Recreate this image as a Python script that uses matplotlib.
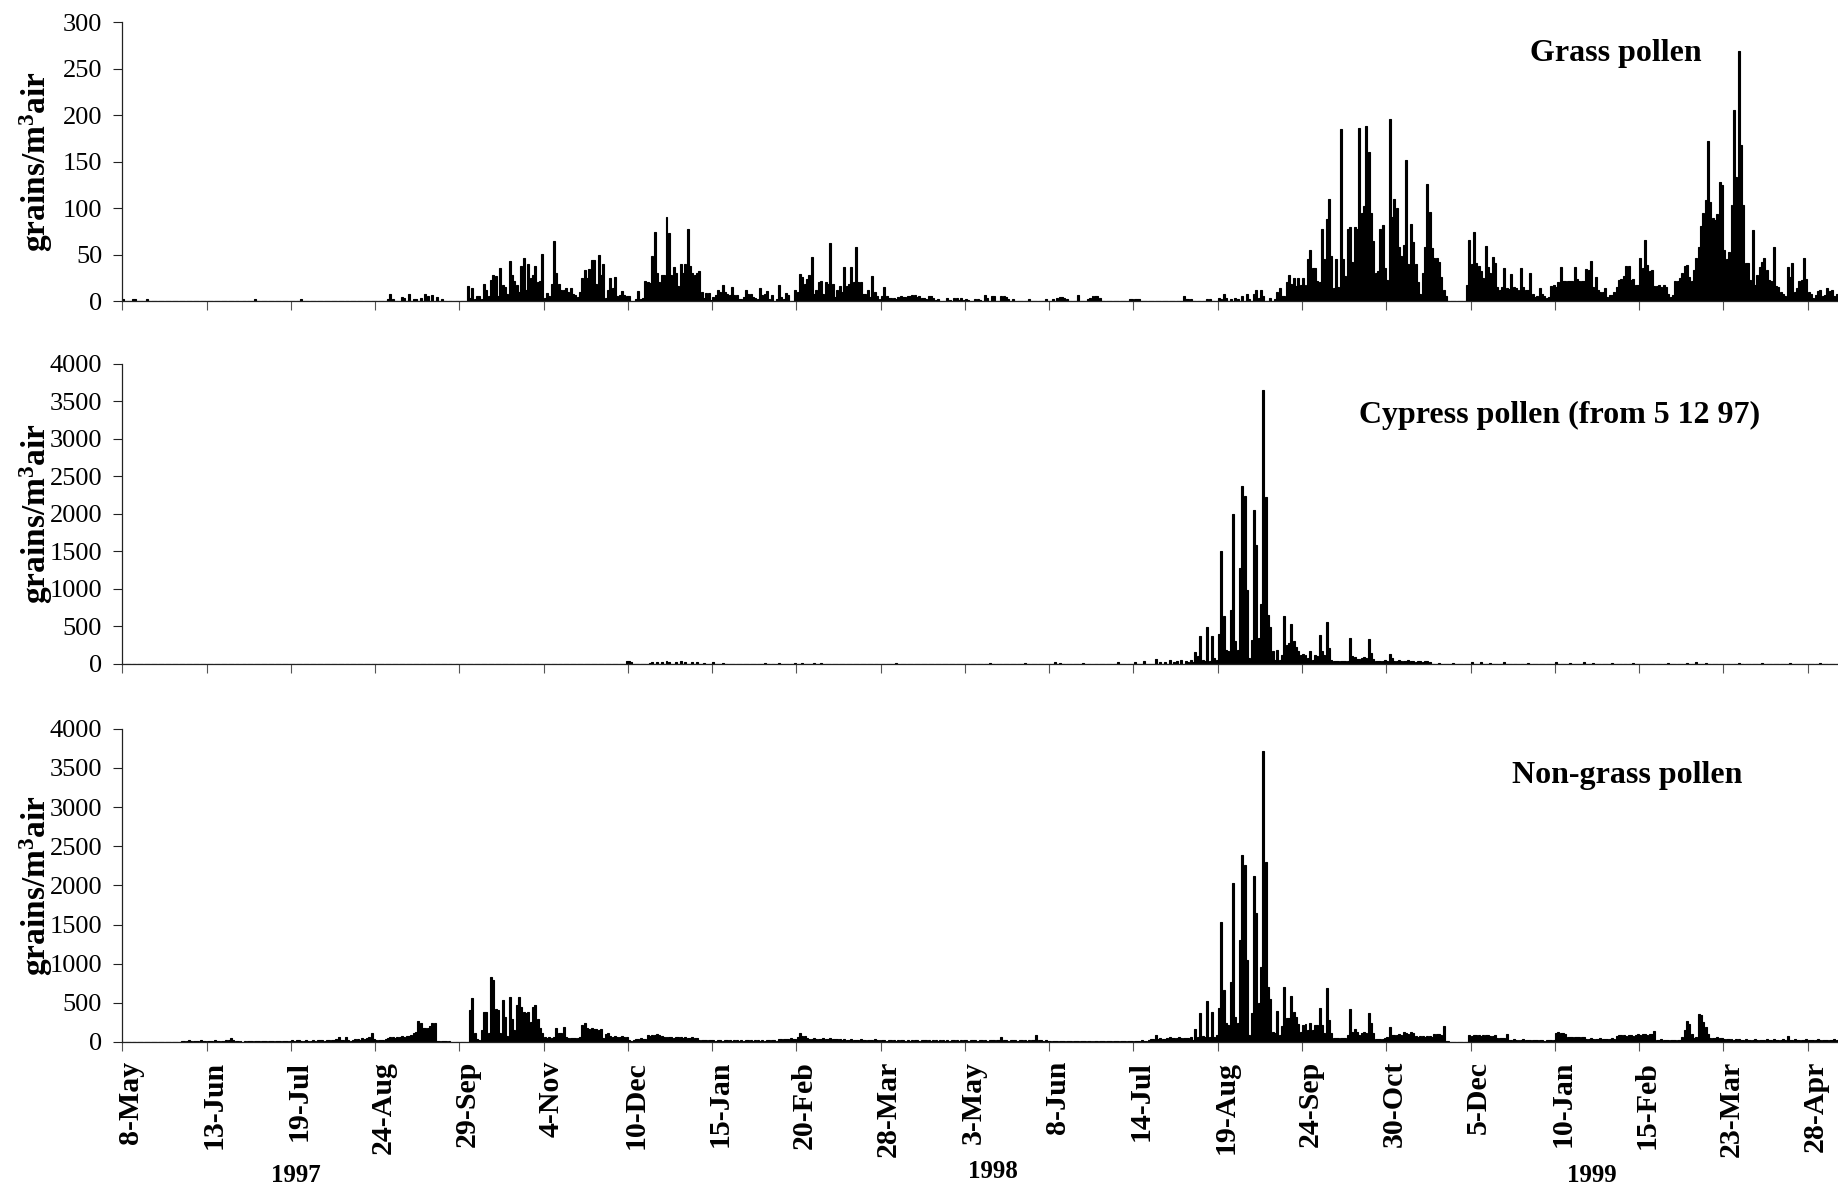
import matplotlib
matplotlib.use('Agg')
import matplotlib.pyplot as plt
import matplotlib.transforms as mtransforms
import numpy as np

plt.rcParams['font.family'] = 'Liberation Serif'
plt.rcParams['mathtext.fontset'] = 'custom'
plt.rcParams['mathtext.rm'] = 'Liberation Serif:bold'
plt.rcParams['mathtext.bf'] = 'Liberation Serif:bold'
plt.rcParams['mathtext.default'] = 'bf'

# daily counts from 8-May-1997, one row per 36-day tick interval
grass_blocks = [
    [2,0,0,0,2,2, 0,0,0,0,2,0, 0,0,0,0,0,0, 0,0,0,0,0,0, 0,0,0,0,0,0, 0,0,0,0,0,0],
    [0,0,0,0,0,0, 0,0,0,0,0,0, 0,0,0,0,0,0, 0,0,2,0,0,0, 0,0,0,0,0,0, 0,0,0,0,0,0],
    [0,0,0,0,2,0, 0,0,0,0,0,0, 0,0,0,0,0,0, 0,0,0,0,0,0, 0,0,0,0,0,0, 0,0,0,0,0,0],
    [0,0,0,0,0,2, 8,2,0,0,0,4, 3,0,8,0,2,2, 0,3,0,8,5,0, 6,0,4,0,2,0, 0,0,0,0,0,0],
    [0,0,0,16,3,14, 2,5,5,2,18,12, 5,23,28,27,5,35, 17,15,8,43,28,22, 17,10,38,46,12,40, 25,28,38,20,21,51],
    [3,9,5,18,65,30, 18,12,12,14,10,14, 8,6,4,10,25,33, 25,34,44,44,18,49, 28,40,3,12,25,14, 26,5,6,11,6,5],
    [5,0,0,2,11,2, 3,21,20,19,48,74, 30,20,28,28,90,73, 28,37,30,16,40,30, 40,77,38,30,28,30, 32,10,3,9,9,1],
    [4,6,12,10,17,10, 8,6,15,6,6,2, 2,4,12,8,8,4, 3,2,14,6,8,11, 2,6,0,2,17,4, 2,9,6,0,0,12],
    [10,29,26,18,24,28, 47,8,12,20,21,8, 20,18,62,18,4,12, 16,10,37,16,18,37, 20,58,20,20,8,8, 12,4,27,10,5,2],
    [5,15,5,3,3,3, 2,4,5,4,4,5, 5,6,6,4,5,3, 3,2,5,5,3,1, 2,0,0,0,3,1, 0,3,3,1,3,1],
    [2,1,0,0,2,2, 1,0,6,3,0,5, 5,0,0,5,5,4, 2,0,2,0,0,0, 0,0,0,2,0,0, 0,0,0,0,2,0],
    [0,2,0,3,4,4, 3,2,0,0,0,0, 6,0,0,0,2,3, 5,5,5,3,0,0, 0,0,0,0,0,0, 0,0,0,0,2,2],
    [2,2,2,0,0,0, 0,0,0,0,0,0, 0,0,0,0,0,0, 0,0,0,5,2,2, 2,0,0,0,0,0, 0,2,2,0,0,0],
    [3,2,8,3,0,2, 0,3,2,0,5,0, 8,2,0,8,12,3, 12,5,0,0,3,0, 2,10,14,5,5,20, 28,18,25,16,25,17],
    [25,17,45,55,36,36, 21,20,77,45,88,110, 48,14,45,15,185,45, 27,78,80,42,80,77, 186,95,102,188,160,95, 65,30,32,78,82,36],
    [23,196,90,110,100,58, 48,60,152,40,83,63, 40,20,8,30,58,126, 96,57,46,46,42,26, 12,5,0,0,0,0, 0,0,0,0,17,66],
    [40,74,41,38,32,25, 59,37,30,47,41,15, 12,15,35,14,13,29, 15,14,12,35,15,12, 12,30,8,4,5,14, 8,5,3,4,16,17],
    [15,20,37,22,21,22, 21,21,37,24,21,21, 21,34,33,43,15,26, 12,10,10,14,4,6, 6,10,15,23,24,27, 38,38,23,24,17,17],
    [46,36,66,39,32,33, 16,16,17,15,17,15, 8,4,6,21,22,25, 30,38,39,26,22,33, 46,58,81,95,109,172, 107,89,87,94,128,125],
    [55,45,53,103,206,134, 269,168,103,41,41,23, 76,17,28,37,42,46, 33,23,21,58,16,15, 10,8,5,37,26,41, 10,14,21,23,46,24],
    [10,7,3,6,11,12, 5,6,14,11,12,5, 8],
]

cypress_blocks = [
    [0,0,0,0,0,0, 0,0,0,0,0,0, 0,0,0,0,0,0, 0,0,0,0,0,0, 0,0,0,0,0,0, 0,0,0,0,0,0],
    [0,0,0,0,0,0, 0,0,0,0,0,0, 0,0,0,0,0,0, 0,0,0,0,0,0, 0,0,0,0,0,0, 0,0,0,0,0,0],
    [0,0,0,0,0,0, 0,0,0,0,0,0, 0,0,0,0,0,0, 0,0,0,0,0,0, 0,0,0,0,0,0, 0,0,0,0,0,0],
    [0,0,0,0,0,0, 0,0,0,0,0,0, 0,0,0,0,0,0, 0,0,0,0,0,0, 0,0,0,0,0,0, 0,0,0,0,0,0],
    [0,0,0,0,0,0, 0,0,0,0,0,0, 0,0,0,0,0,0, 0,0,0,0,0,0, 0,0,0,0,0,0, 0,0,0,0,0,0],
    [0,0,0,0,0,0, 0,0,0,0,0,0, 0,0,0,0,0,0, 0,0,0,0,0,0, 0,0,0,0,0,0, 0,0,0,0,0,30],
    [40,20,0,0,0,0, 0,0,0,15,20,0, 25,0,20,0,30,20, 0,0,25,0,30,0, 20,0,0,25,0,20, 0,0,15,0,0,0],
    [20,0,0,0,15,0, 0,0,0,0,0,0, 0,0,0,0,0,0, 0,0,0,0,10,0, 0,0,0,0,10,0, 0,0,0,0,0,15],
    [0,0,10,0,0,0, 0,15,0,0,10,0, 0,0,0,0,0,0, 0,0,0,0,0,0, 0,0,0,0,0,0, 0,0,0,0,0,0],
    [0,0,0,0,0,0, 15,0,0,0,0,0, 0,0,0,0,0,0, 0,0,0,0,0,0, 0,0,0,0,0,0, 0,0,0,0,0,0],
    [0,0,0,0,0,0, 0,0,0,0,10,0, 0,0,0,0,0,0, 0,0,0,0,0,0, 0,10,0,0,0,0, 0,0,0,0,0,0],
    [0,0,20,0,15,0, 0,0,0,0,0,0, 0,0,10,0,0,0, 0,0,0,0,0,0, 0,0,0,0,0,20, 0,0,0,0,0,0],
    [25,0,0,0,30,0, 0,0,0,67,0,20, 0,25,0,53,0,20, 30,0,44,0,30,25, 50,20,150,98,364,50, 30,484,30,364,75,50],
    [395,1507,631,187,164,720, 1996,307,187,1276,2364,2231, 987,75,320,2053,1578,342, 796,3653,2218,653,489,164, 53,187,53,120,631,253, 276,529,298,218,164,120],
    [129,120,75,173,53,120, 98,387,164,120,551,209, 53,40,40,35,40,40, 35,40,342,98,85,67, 67,75,85,75,329,142, 67,30,30,30,30,44],
    [30,129,75,30,40,50, 35,40,30,45,30,35, 25,40,30,25,40,30, 20,0,0,0,15,0, 0,0,0,0,10,0, 0,0,0,0,0,0],
    [20,0,0,0,20,0, 0,0,15,0,0,0, 0,0,20,0,0,0, 0,0,0,0,0,0, 15,0,0,0,0,0, 0,0,0,0,0,0],
    [20,0,0,0,0,0, 15,0,0,0,0,0, 20,0,0,0,15,0, 0,0,0,0,0,0, 10,0,0,0,0,0, 0,0,0,15,0,0],
    [0,0,0,0,0,0, 0,0,0,0,0,0, 10,0,0,0,0,0, 0,0,15,0,0,0, 20,0,0,0,15,0, 0,0,0,0,0,0],
    [0,0,0,0,0,0, 10,0,0,0,0,0, 0,0,0,0,10,0, 0,0,0,0,0,0, 0,0,0,0,15,0, 0,0,0,0,0,0],
    [0,0,0,0,0,10, 0,0,0,0,0,0, 0],
]

nongrass_blocks = [
    [0,0,0,0,0,0, 0,0,0,0,0,0, 0,0,0,0,0,0, 0,0,0,0,0,0, 0,10,15,10,20,15, 12,10,15,20,12,10],
    [15,12,10,20,15,12, 10,15,20,25,47,20, 10,12,10,5,10,15, 8,10,12,15,10,8, 12,10,15,12,10,8, 12,15,10,12,10,15],
    [20,15,20,30,15,12, 20,15,15,20,15,20, 25,20,15,20,30,25, 20,35,68,25,30,60, 20,15,30,40,35,30, 45,40,50,60,119,40],
    [20,25,30,20,40,50, 60,65,55,70,60,75, 70,80,77,90,120,130, 268,238,174,183,180,200, 247,238,17,17,15,17, 15,17,0,0,0,0],
    [0,0,0,0,408,557, 110,34,20,153,387,387, 110,834,791,420,408,110, 536,323,80,579,300,150, 472,570,451,380,366,387, 260,443,472,300,174,110],
    [60,55,65,50,70,174, 110,110,196,70,50,45, 55,50,50,60,217,238, 174,170,180,160,170,150, 160,50,100,110,72,60, 80,70,65,75,60,70],
    [20,15,20,42,40,45, 42,40,85,80,90,85, 106,90,80,64,70,64, 60,55,64,70,60,55, 64,50,55,60,50,45, 30,28,30,25,20,22],
    [20,18,22,20,15,20, 25,20,18,20,22,15, 20,18,20,25,20,18, 22,20,15,20,18,20, 22,25,20,18,40,42, 40,42,38,45,40,42],
    [60,119,72,72,45,42, 40,45,42,38,42,45, 40,42,45,42,40,42, 38,30,32,28,30,35, 30,28,30,32,30,28, 30,25,30,32,28,30],
    [20,22,18,20,25,20, 18,20,22,20,18,20, 15,20,22,20,18,20, 25,20,22,18,20,20, 18,22,20,15,20,18, 20,22,20,18,20,22],
    [20,18,22,20,20,18, 22,25,20,18,20,22, 20,25,30,64,25,20, 18,20,22,20,18,20, 22,20,18,20,25,30, 85,30,20,18,20,15],
    [15,13,18,15,13,15, 18,13,15,13,15,18, 15,13,15,13,18,15, 13,15,13,18,15,13, 15,13,18,15,13,15, 13,18,15,13,15,18],
    [15,18,15,20,15,18, 20,42,40,89,42,45, 40,42,45,68,55,50, 55,60,47,55,50,55, 60,30,162,60,374,80, 60,523,60,387,60,90],
    [430,1536,664,238,217,770, 2034,323,238,1302,2387,2260, 1047,89,366,2123,1651,494, 953,3715,2302,706,545,132, 110,396,89,204,698,302, 302,587,387,323,230,132],
    [217,230,153,247,153,217, 217,430,217,110,685,281, 110,47,47,47,47,47, 47,89,417,132,162,132, 89,110,132,110,366,238, 110,35,35,35,35,50],
    [60,190,90,85,95,100, 90,128,110,100,128,110, 72,70,75,72,65,72, 75,70,106,100,106,90, 200,13,13,0,0,0, 0,0,0,0,0,85],
    [80,85,90,85,80,85, 90,85,80,75,85,55, 50,55,50,106,30,28, 32,30,25,30,32,28, 30,25,30,20,21,22, 20,18,21,22,20,21],
    [110,123,120,115,105,64, 60,70,64,58,64,66, 60,42,40,45,42,38, 42,45,40,42,38,42, 45,42,80,85,90,85, 80,85,90,80,85,98],
    [95,100,98,92,100,98, 140,30,28,32,30,28, 30,21,20,22,21,20, 60,150,268,234,106,50, 60,353,340,255,191,106, 55,50,55,60,55,50],
    [40,35,42,38,30,35, 40,30,28,35,30,25, 30,35,28,30,25,30, 35,28,30,32,28,25, 30,35,28,72,30,28, 32,30,25,30,28,32],
    [30,28,25,30,32,28, 30,25,30,28,30,32, 28],
]

tick_labels = ['8-May', '13-Jun', '19-Jul', '24-Aug', '29-Sep', '4-Nov', '10-Dec',
               '15-Jan', '20-Feb', '28-Mar', '3-May', '8-Jun', '14-Jul', '19-Aug',
               '24-Sep', '30-Oct', '5-Dec', '10-Jan', '15-Feb', '23-Mar', '28-Apr']
years = ['1997', '1998', '1999']
titles = ['Grass pollen', 'Cypress pollen (from 5 12 97)', 'Non-grass pollen']

for name, blocks in [('grass', grass_blocks), ('cypress', cypress_blocks), ('nongrass', nongrass_blocks)]:
    lens = [len(b) for b in blocks]
    assert all(l == 36 for l in lens[:-1]) and lens[-1] == 13, (name, lens)

grass = sum(grass_blocks, [])
cypress = sum(cypress_blocks, [])
nongrass = sum(nongrass_blocks, [])

n_days = len(grass)
days = np.arange(n_days) + 0.5
tick_pos = np.arange(len(tick_labels)) * 36

W, H = 1838, 1188
fig = plt.figure(figsize=(W / 100, H / 100), dpi=100)

left = 122.3
# (top px, bottom px, data, ymax, step, title, title centre px)
panels = [
    (22.3, 301.0, grass, 300, 50, titles[0], (1616, 53)),
    (363.7, 663.7, cypress, 4000, 500, titles[1], (1560, 415)),
    (728.7, 1042.0, nongrass, 4000, 500, titles[2], (1627, 775)),
]

# Excel draws the rotated date labels a little to the right of their ticks
shift = mtransforms.ScaledTranslation(8 / 100, 0, fig.dpi_scale_trans)

for i, (top, bottom, data, ymax, step, title, (tx, ty)) in enumerate(panels):
    ax = fig.add_axes([left / W, 1 - bottom / H, 1 - left / W, (bottom - top) / H])
    ax.bar(days, data, width=0.85, color='black', edgecolor='black', linewidth=0.8)
    ax.set_xlim(0, n_days)
    ax.set_ylim(0, ymax)
    ax.set_yticks(np.arange(0, ymax + 1, step))
    ax.set_xticks(tick_pos)
    for s in ['top', 'right']:
        ax.spines[s].set_visible(False)
    for s in ['left', 'bottom']:
        ax.spines[s].set_linewidth(0.9)
        ax.spines[s].set_color('#222222')
    ax.tick_params(axis='y', direction='out', length=6.5, width=0.8, pad=8,
                   labelsize=19, colors='#222222', labelcolor='black')
    ax.tick_params(axis='x', direction='out', length=6.5, width=0.8, pad=7,
                   labelsize=21.5, colors='#555555', labelcolor='black')
    if i == 2:
        ax.set_xticklabels(tick_labels, rotation=90, fontweight='bold')
        for lab in ax.get_xticklabels():
            lab.set_transform(lab.get_transform() + shift)
    else:
        ax.set_xticklabels([])
    fig.text(tx / W, 1 - ty / H, title, fontsize=23, fontweight='bold',
             ha='center', va='center')
    fig.text(36 / W, 1 - (top + bottom) / 2 / H, r'grains/m$^3$air', fontsize=24,
             fontweight='bold', rotation=90, ha='center', va='center')

for yr, (x, y) in zip(years, [(296, 1175), (993, 1171), (1592, 1176)]):
    fig.text(x / W, 1 - y / H, yr, fontsize=18, fontweight='bold', ha='center', va='center')

fig.savefig('out.png', dpi=100)
